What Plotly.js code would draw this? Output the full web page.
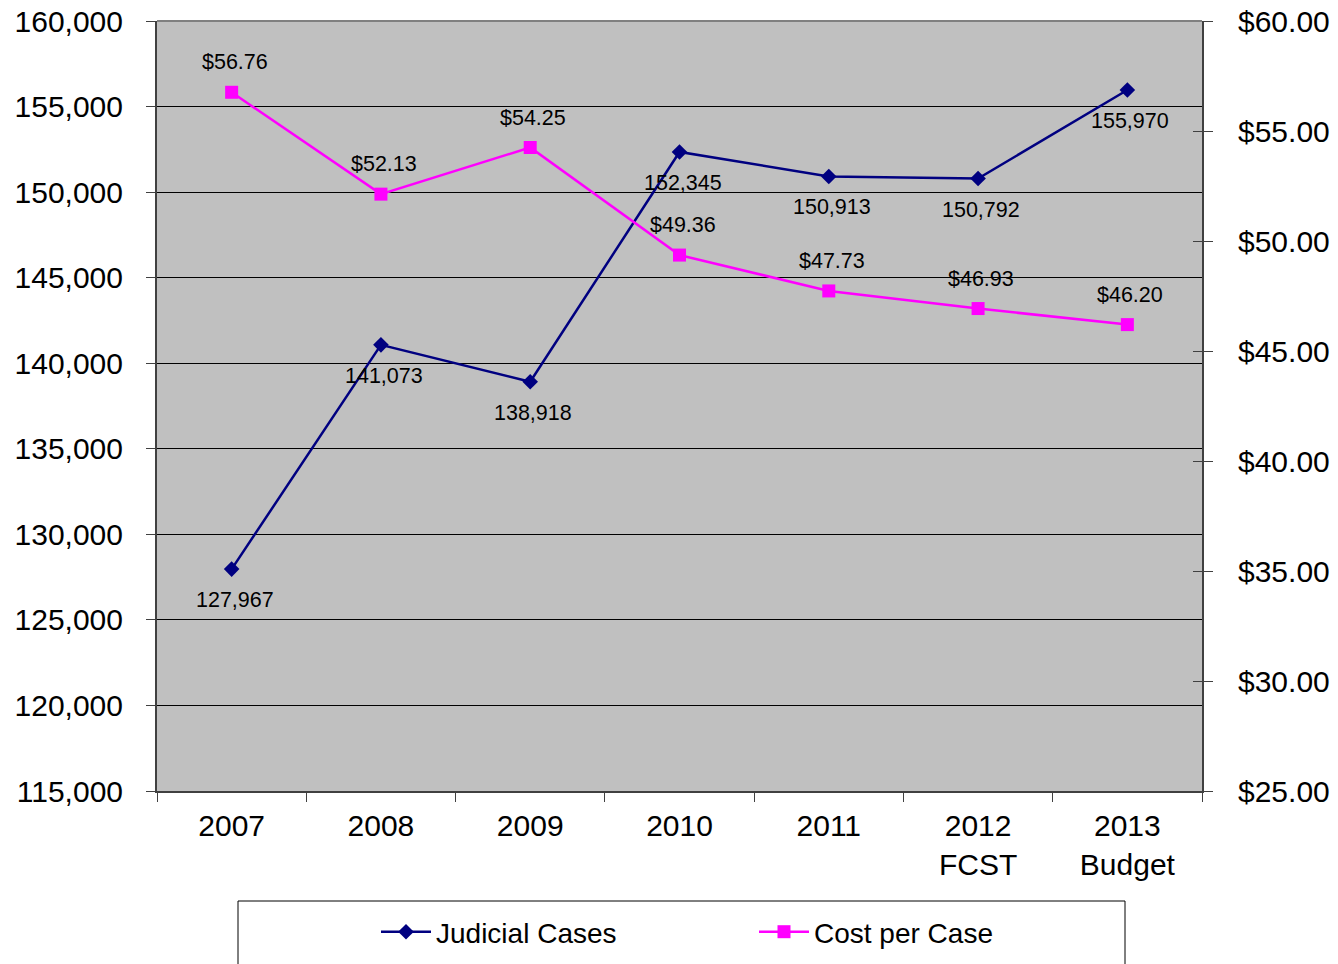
<!DOCTYPE html>
<html>
<head>
<meta charset="utf-8">
<script src="https://cdn.plot.ly/plotly-3.0.1.min.js"></script>
<style>html,body{margin:0;padding:0;background:#fff;}#chart{width:1338px;height:964px;}</style>
</head>
<body>
<div id="chart"></div>
<script>
const categories = ["2007", "2008", "2009", "2010", "2011", "2012<br>FCST", "2013<br>Budget"];
const judicialCases = [127967, 141073, 138918, 152345, 150913, 150792, 155970];
const costPerCase = [56.76, 52.13, 54.25, 49.36, 47.73, 46.93, 46.20];
const leftTicks = [115000, 120000, 125000, 130000, 135000, 140000, 145000, 150000, 155000, 160000];
const rightTicks = [25, 30, 35, 40, 45, 50, 55, 60];

const FONT = "Liberation Sans, Arial, sans-serif";
const W = 1338, H = 964;
const L = 157, R = 1202, T = 21, B = 791;
const px = x => (x - L) / (R - L);
const py = y => (B - y) / (B - T);
const cx = x => x / W;
const cy = y => 1 - y / H;

const traces = [
  {
    x: categories, y: judicialCases, name: "Judicial Cases", type: "scatter", mode: "lines+markers",
    line: {color: "#000080", width: 2.5},
    marker: {symbol: "diamond", size: 12, color: "#000080"},
    yaxis: "y", cliponaxis: false
  },
  {
    x: categories, y: costPerCase, name: "Cost per Case", type: "scatter", mode: "lines+markers",
    line: {color: "#FF00FF", width: 2.5},
    marker: {symbol: "square", size: 13, color: "#FF00FF"},
    yaxis: "y2", cliponaxis: false
  }
];

const labelFont = {family: FONT, size: 21.5, color: "#000"};
const annotations = [];
categories.forEach((c, i) => {
  // category axis: position by category index
  annotations.push({x: i, y: judicialCases[i], xref: "x", yref: "y", text: judicialCases[i].toLocaleString("en-US"),
    showarrow: false, xshift: 3, yshift: -31, font: labelFont});
  annotations.push({x: i, y: costPerCase[i], xref: "x", yref: "y2", text: "$" + costPerCase[i].toFixed(2),
    showarrow: false, xshift: 3, yshift: 30, font: labelFont});
});

const layout = {
  width: W, height: H,
  margin: {l: L, r: W - R, t: T, b: H - B},
  paper_bgcolor: "#fff",
  plot_bgcolor: "#C0C0C0",
  font: {family: FONT, color: "#000"},
  showlegend: true,
  legend: {
    orientation: "h", xref: "container", yref: "container",
    x: cx(376), xanchor: "left", y: cy(932), yanchor: "middle",
    font: {family: FONT, size: 28, color: "#000"},
    bgcolor: "rgba(0,0,0,0)", borderwidth: 0, itemwidth: 50,
    entrywidth: 313, entrywidthmode: "pixels"
  },
  xaxis: {
    type: "category", tickson: "boundaries", ticks: "outside", ticklen: 9, tickcolor: "#404040",
    showline: true, linecolor: "#404040", linewidth: 2, showgrid: false,
    tickfont: {family: FONT, size: 30, color: "#000"}, ticklabelstandoff: 7,
    range: [-0.5, 6.5], fixedrange: true
  },
  yaxis: {
    range: [115000, 160000], tickvals: leftTicks, ticktext: leftTicks.map(v => v.toLocaleString("en-US")),
    ticks: "outside", ticklen: 9, tickcolor: "#404040",
    showline: true, linecolor: "#404040", linewidth: 2,
    showgrid: true, gridcolor: "#000", gridwidth: 1, zeroline: false,
    tickfont: {family: FONT, size: 30, color: "#000"}, ticklabelstandoff: 17
  },
  yaxis2: {
    range: [25, 60], overlaying: "y", side: "right", tickvals: rightTicks,
    ticktext: rightTicks.map(v => "$" + v.toFixed(2)),
    ticks: "outside", ticklen: 9, tickcolor: "#404040",
    showline: true, linecolor: "#404040", linewidth: 2, showgrid: false, zeroline: false,
    tickfont: {family: FONT, size: 30, color: "#000"}, ticklabelstandoff: 19
  },
  yaxis3: {
    range: [25, 60], overlaying: "y", side: "right", tickvals: rightTicks, showticklabels: false,
    ticks: "inside", ticklen: 9, tickcolor: "#404040", showline: false, showgrid: false, zeroline: false
  },
  annotations: annotations,
  shapes: [
    {type: "line", xref: "paper", yref: "paper", x0: 0, x1: 1, y0: 1, y1: 1, line: {color: "#808080", width: 2}},
    {type: "rect", xref: "paper", yref: "paper", x0: px(238), x1: px(1125), y0: py(901), y1: py(1010), line: {color: "#000", width: 1}, fillcolor: "rgba(0,0,0,0)"}
  ]
};

// invisible point to activate the inner right tick axis
traces.push({x: [categories[0]], y: [25], yaxis: "y3", type: "scatter", mode: "markers", marker: {opacity: 0}, showlegend: false, hoverinfo: "skip"});

Plotly.newPlot("chart", traces, layout, {displayModeBar: false, staticPlot: true});
</script>
</body>
</html>
